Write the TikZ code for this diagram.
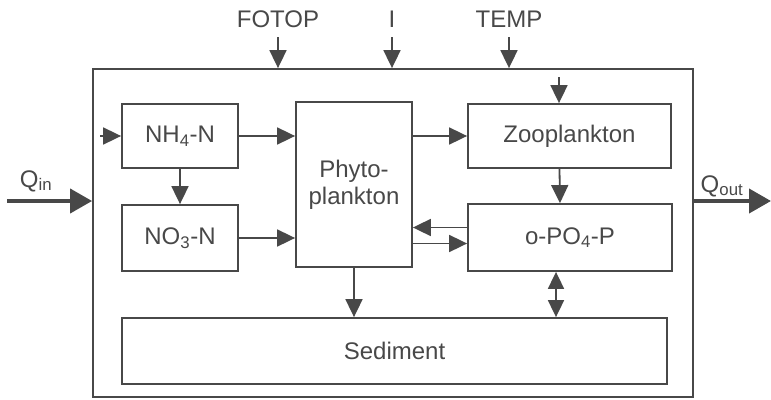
\documentclass[tikz,border=0pt]{standalone}
\usepackage{fontspec}
\setmainfont{Liberation Sans}
\usetikzlibrary{arrows.meta}
\definecolor{inkgray}{RGB}{72, 72, 72}

\begin{document}
\begin{tikzpicture}[x=1pt, y=-1pt, inkgray, line width=1.8pt,
    font=\fontsize{24}{27}\selectfont,
    box/.style={draw, inner sep=0pt, align=center},
    flow/.style={-{Triangle[length=18pt, width=17pt]}},
    twoflow/.style={{Triangle[length=17pt, width=16pt]}-{Triangle[length=17pt, width=16pt]}},
    bigflow/.style={line width=4pt, -{Triangle[length=22pt, width=24pt]}}]
  \useasboundingbox (0,0) rectangle (771,399);
  % basin and compartments
  \node[box, minimum width=600pt, minimum height=328pt] (basin) at (393,233) {};
  \node[box, minimum width=116pt, minimum height=64pt] (nh4) at (180,136) {NH\textsubscript{4}-N};
  \node[box, minimum width=116pt, minimum height=66pt] (no3) at (180,238) {NO\textsubscript{3}-N};
  \node[box, minimum width=116pt, minimum height=165pt] (phyto) at (354,184.5) {Phyto-\\plankton};
  \node[box, minimum width=203pt, minimum height=64pt] (zoo) at (569.5,136) {Zooplankton};
  \node[box, minimum width=204pt, minimum height=67pt] (po4) at (570,237.5) {o-PO\textsubscript{4}-P};
  \node[box, minimum width=545pt, minimum height=66pt] (sed) at (394.5,351) {Sediment};
  % forcings
  \node (fotop) at (278,19) {FOTOP};
  \node (light) at (392,19) {I};
  \node (temp) at (509,19) {TEMP};
  \coordinate (fotopend) at (278,37);
  \coordinate (lightend) at (392,37);
  \coordinate (tempend) at (509,37);
  \draw[flow] (fotopend) -- (fotopend |- basin.north);
  \draw[flow] (lightend) -- (lightend |- basin.north);
  \draw[flow] (tempend) -- (tempend |- basin.north);
  \coordinate (zootop) at (559,77);
  \draw[flow] (zootop) -- (zootop |- zoo.north);
  % inflow and outflow
  \coordinate (qin) at (7,201);
  \coordinate (qout) at (771,201);
  \draw[bigflow] (qin) -- (qin -| basin.west);
  \draw[bigflow] (qout -| basin.east) -- (qout);
  \node (qinlabel) at (36,181) {Q\textsubscript{in}};
  \node (qoutlabel) at (722,186) {Q\textsubscript{out}};
  % internal fluxes
  \coordinate (nh4in) at (100,136);
  \draw[flow] (nh4in) -- (nh4.west);
  \draw[flow] (nh4.south) -- (no3.north);
  \draw[flow] (nh4.east) -- (nh4.east -| phyto.west);
  \draw[flow] (no3.east) -- (no3.east -| phyto.west);
  \draw[flow] (phyto.east |- zoo.west) -- (zoo.west);
  \draw[flow] ([xshift=-10pt]zoo.south) -- ([xshift=-10pt]po4.north);
  \draw[flow] ([yshift=10pt]po4.west) -- ([yshift=10pt]po4.west -| phyto.east);
  \draw[flow] ([yshift=-6pt]po4.west -| phyto.east) -- ([yshift=-6pt]po4.west);
  \draw[flow] (phyto.south) -- (phyto.south |- sed.north);
  \draw[twoflow] ([xshift=-14pt]po4.south) -- ([xshift=-14pt]po4.south |- sed.north);
\end{tikzpicture}
\end{document}
